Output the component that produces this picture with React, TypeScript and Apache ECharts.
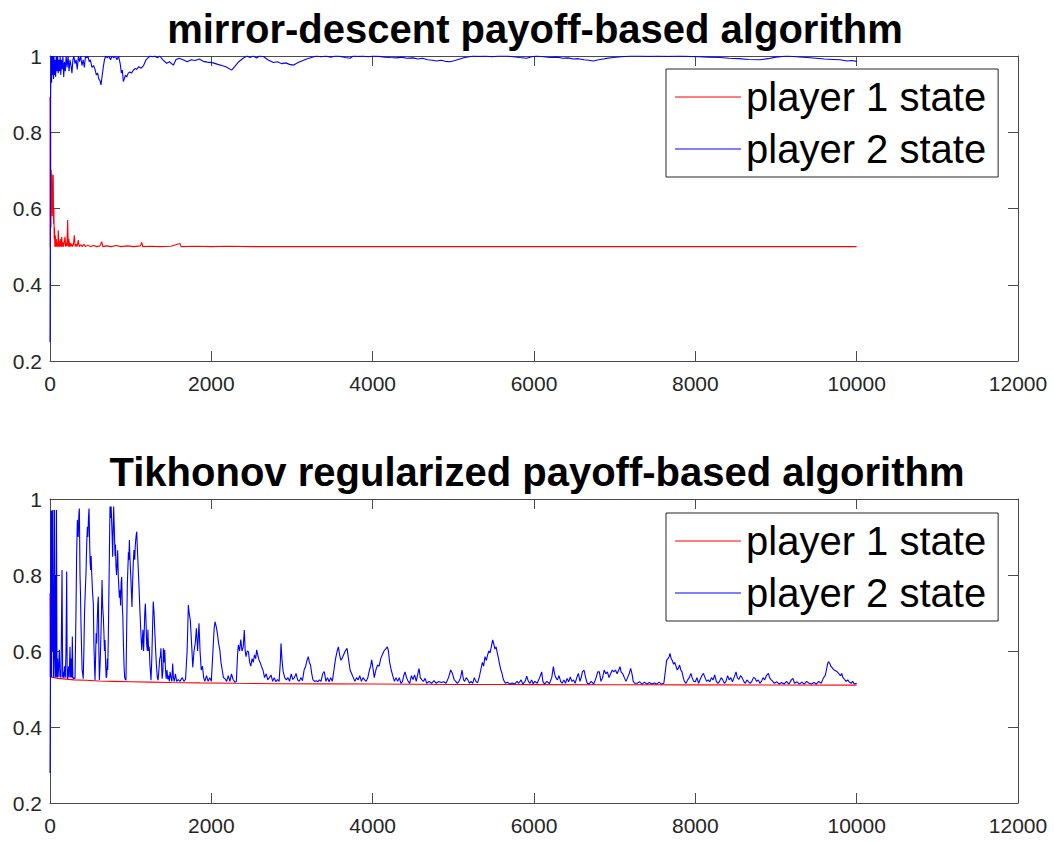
import React, { useEffect, useRef } from "react";
import * as echarts from "echarts";

const titles = ["mirror-descent payoff-based algorithm", "Tikhonov regularized payoff-based algorithm"];
const seriesNames = ["player 1 state", "player 2 state"];
const xTicks = { min: 0, max: 12000, interval: 2000 };
const yTicks = { min: 0.2, max: 1, interval: 0.2 };

// Top panel: player 1 (red)
const topRed: number[][] = [
  [0, 0.893], [4, 0.5], [8, 0.8], [12, 0.55], [16, 0.7], [20, 0.6], [24, 0.69], [28, 0.58], [32, 0.66], [36, 0.62],
  [40, 0.688], [44, 0.56], [48, 0.6], [52, 0.52], [56, 0.55], [60, 0.5], [66, 0.53], [72, 0.5], [78, 0.52], [84, 0.5],
  [90, 0.51], [96, 0.5], [103, 0.543], [110, 0.5], [118, 0.515], [124, 0.5], [132, 0.52], [138, 0.5], [145, 0.526],
  [152, 0.5], [160, 0.512], [168, 0.5], [176, 0.51], [186, 0.526], [194, 0.5], [202, 0.51], [210, 0.502], [219, 0.57],
  [226, 0.5], [234, 0.52], [242, 0.5], [250, 0.51], [260, 0.5], [270, 0.508], [280, 0.5], [290, 0.505], [302, 0.53],
  [312, 0.5], [324, 0.506], [336, 0.5], [351, 0.517], [362, 0.5], [380, 0.505], [400, 0.5], [420, 0.506], [440, 0.5],
  [470, 0.504], [500, 0.5], [540, 0.503], [580, 0.5], [620, 0.502], [641, 0.513], [655, 0.5], [700, 0.502], [760, 0.5],
  [820, 0.503], [880, 0.5], [960, 0.502], [1040, 0.5], [1120, 0.502], [1137, 0.511], [1150, 0.5], [1250, 0.501],
  [1350, 0.5], [1500, 0.501], [1612, 0.508], [1625, 0.5], [1800, 0.501], [2000, 0.5], [2200, 0.501], [2500, 0.5],
  [3000, 0.5], [4000, 0.5], [5000, 0.5], [6000, 0.5], [7000, 0.5], [8000, 0.5], [9000, 0.5], [10000, 0.5],
];

// Top panel: player 2 (blue)
const topBlue: number[][] = [
  [0, 0.25], [8, 0.9], [14, 1.0], [20, 0.93], [26, 1.0], [32, 0.95], [38, 1.0], [44, 0.94], [50, 1.0], [56, 0.95],
  [62, 0.99], [70, 0.945], [78, 1.0], [86, 0.96], [94, 1.0], [102, 0.955], [110, 0.99], [118, 0.96], [126, 1.0],
  [134, 0.95], [142, 0.99], [150, 0.965], [160, 1.0], [170, 0.945], [180, 0.985], [190, 0.96], [200, 1.0], [212, 0.97],
  [224, 1.0], [236, 0.96], [248, 0.99], [260, 0.975], [272, 0.955], [284, 0.99], [296, 1.0], [310, 0.98], [324, 0.99],
  [338, 0.965], [352, 1.0], [366, 0.985], [380, 1.0], [396, 0.975], [412, 0.99], [426, 0.97], [440, 1.0], [456, 0.995],
  [470, 1.0], [486, 0.985], [500, 0.99], [520, 0.97], [540, 0.975], [558, 0.965], [575, 0.95], [590, 0.955], [605, 0.94],
  [620, 0.935], [632, 0.924], [645, 0.945], [660, 0.97], [675, 0.99], [690, 1.0], [710, 0.995], [730, 1.0], [750, 0.99],
  [770, 1.0], [790, 0.995], [810, 1.0], [830, 0.99], [850, 1.0], [870, 0.98], [885, 0.955], [897, 0.963], [909, 0.933],
  [921, 0.94], [935, 0.95], [950, 0.945], [970, 0.955], [990, 0.958], [1010, 0.955], [1030, 0.962], [1054, 0.967],
  [1075, 0.965], [1100, 0.972], [1130, 0.968], [1160, 0.975], [1190, 0.99], [1215, 0.995], [1240, 1.0], [1270, 0.998],
  [1300, 1.0], [1330, 0.995], [1360, 1.0], [1400, 0.99], [1446, 0.981], [1480, 0.985], [1529, 0.976], [1560, 0.99],
  [1600, 0.994], [1650, 0.99], [1700, 0.985], [1750, 0.99], [1800, 0.988], [1850, 0.992], [1900, 0.986], [1950, 0.984],
  [2025, 0.982], [2080, 0.978], [2130, 0.975], [2180, 0.972], [2252, 0.963], [2300, 0.975], [2340, 0.985], [2394, 0.994],
  [2440, 1.0], [2480, 0.996], [2520, 1.0], [2560, 0.995], [2600, 1.0], [2650, 0.998], [2700, 0.99], [2769, 0.983],
  [2820, 0.985], [2870, 0.98], [2920, 0.982], [2970, 0.978], [3015, 0.976], [3070, 0.982], [3120, 0.987], [3182, 0.992],
  [3240, 0.996], [3306, 1.0], [3360, 0.998], [3420, 1.0], [3480, 0.997], [3540, 1.0], [3600, 0.999], [3660, 0.996],
  [3719, 0.994], [3760, 1.0], [3820, 0.999], [3880, 1.0], [3940, 0.998], [4004, 1.0], [4080, 0.999], [4150, 0.997],
  [4215, 0.996], [4300, 0.995], [4360, 0.997], [4422, 0.994], [4500, 0.995], [4560, 0.992], [4620, 0.994], [4680, 0.99],
  [4740, 0.989], [4794, 0.987], [4850, 0.989], [4900, 0.986], [4959, 0.985], [5020, 0.988], [5080, 0.992], [5140, 0.996],
  [5200, 0.998], [5244, 1.0], [5320, 0.999], [5400, 1.0], [5480, 0.998], [5560, 1.0], [5661, 1.0], [5740, 0.998],
  [5820, 0.996], [5909, 0.994], [5970, 0.998], [6033, 1.0], [6120, 0.998], [6200, 0.996], [6280, 0.997], [6360, 0.994],
  [6420, 0.995], [6487, 0.992], [6550, 0.993], [6620, 0.99], [6680, 0.989], [6735, 0.987], [6800, 0.99], [6880, 0.993],
  [6983, 0.996], [7080, 0.998], [7200, 1.0], [7314, 1.0], [7420, 0.999], [7540, 1.0], [7660, 0.999], [7810, 1.0],
  [7920, 0.999], [8040, 0.998], [8160, 0.997], [8306, 0.996], [8420, 0.994], [8540, 0.993], [8660, 0.991], [8802, 0.99],
  [8900, 0.993], [9000, 0.997], [9133, 1.0], [9250, 0.998], [9381, 0.996], [9500, 0.994], [9600, 0.992], [9700, 0.991],
  [9794, 0.99], [9880, 0.987], [9940, 0.988], [10000, 0.986],
];

// Bottom panel: player 1 (red)
const bottomRed: number[][] = [
  [0, 0.752], [3, 0.533], [50, 0.53], [100, 0.528], [200, 0.526], [300, 0.524], [450, 0.523], [600, 0.521], [800, 0.52],
  [1000, 0.519], [1250, 0.518], [1500, 0.517], [1860, 0.516], [2300, 0.515], [2800, 0.514], [3400, 0.5135], [4000, 0.513],
  [5000, 0.512], [6000, 0.5115], [7000, 0.511], [8000, 0.5108], [9000, 0.5105], [10000, 0.5103],
];

// Bottom panel: player 2 (blue)
const bottomBlue: number[][] = [
  [0, 0.279], [5, 0.528], [12, 0.97], [18, 0.53], [24, 0.97], [30, 0.6], [36, 0.971], [42, 0.53], [50, 0.603], [56, 0.971],
  [62, 0.53], [68, 0.8], [74, 0.532], [80, 0.971], [87, 0.53], [94, 0.58], [100, 0.531], [108, 0.56], [116, 0.603],
  [124, 0.531], [130, 0.55], [136, 0.53], [149, 0.813], [157, 0.53], [165, 0.545], [172, 0.53], [180, 0.56], [190, 0.53],
  [198, 0.6], [207, 0.809], [213, 0.53], [219, 0.527], [230, 0.56], [238, 0.53], [248, 0.611], [256, 0.53], [264, 0.58],
  [270, 0.53], [277, 0.638], [283, 0.53], [289, 0.527], [300, 0.53], [310, 0.527], [322, 0.7], [330, 0.85], [339, 0.945],
  [350, 0.9], [358, 0.96], [364, 0.975], [372, 0.8], [378, 0.75], [384, 0.673], [392, 0.6], [398, 0.55], [405, 0.54],
  [412, 0.527], [420, 0.6], [428, 0.7], [436, 0.75], [446, 0.804], [455, 0.88], [463, 0.927], [470, 0.9], [477, 0.95],
  [484, 0.975], [492, 0.88], [498, 0.83], [504, 0.813], [510, 0.85], [518, 0.8], [526, 0.76], [537, 0.725], [544, 0.62],
  [552, 0.56], [558, 0.523], [565, 0.58], [572, 0.647], [579, 0.62], [586, 0.68], [592, 0.72], [599, 0.743], [606, 0.6],
  [612, 0.523], [620, 0.56], [626, 0.6], [632, 0.647], [638, 0.7], [645, 0.787], [652, 0.72], [661, 0.69], [668, 0.65],
  [675, 0.6], [682, 0.629], [690, 0.56], [697, 0.53], [703, 0.532], [710, 0.58], [716, 0.55], [723, 0.638], [730, 0.75],
  [736, 0.848], [740, 0.92], [744, 0.98], [752, 0.95], [758, 0.98], [765, 0.98], [771, 0.9], [777, 0.848], [784, 0.93],
  [789, 0.98], [794, 0.98], [800, 0.9], [806, 0.85], [812, 0.88], [818, 0.822], [825, 0.8], [832, 0.83], [839, 0.865],
  [846, 0.8], [853, 0.77], [860, 0.74], [868, 0.76], [875, 0.72], [882, 0.78], [889, 0.795], [896, 0.72], [903, 0.69],
  [910, 0.62], [918, 0.56], [926, 0.53], [934, 0.525], [942, 0.523], [950, 0.65], [959, 0.778], [966, 0.82], [972, 0.86],
  [978, 0.84], [984, 0.892], [990, 0.85], [1000, 0.804], [1008, 0.76], [1016, 0.716], [1024, 0.78], [1032, 0.83],
  [1041, 0.866], [1050, 0.84], [1058, 0.88], [1066, 0.9], [1075, 0.914], [1085, 0.86], [1095, 0.813], [1105, 0.76],
  [1116, 0.699], [1126, 0.65], [1137, 0.603], [1145, 0.63], [1152, 0.656], [1160, 0.6], [1168, 0.65], [1175, 0.7],
  [1182, 0.725], [1190, 0.68], [1198, 0.62], [1206, 0.6], [1214, 0.656], [1222, 0.6], [1230, 0.611], [1240, 0.56],
  [1252, 0.523], [1262, 0.58], [1270, 0.65], [1280, 0.73], [1290, 0.7], [1300, 0.647], [1310, 0.6], [1320, 0.56],
  [1330, 0.532], [1340, 0.523], [1350, 0.55], [1360, 0.58], [1368, 0.585], [1375, 0.607], [1382, 0.57], [1390, 0.527],
  [1400, 0.55], [1405, 0.607], [1412, 0.57], [1422, 0.603], [1430, 0.56], [1440, 0.527], [1450, 0.55], [1460, 0.525],
  [1470, 0.535], [1480, 0.52], [1488, 0.545], [1500, 0.53], [1510, 0.52], [1521, 0.567], [1530, 0.53], [1540, 0.52],
  [1555, 0.54], [1570, 0.52], [1590, 0.525], [1610, 0.52], [1640, 0.53], [1660, 0.52], [1680, 0.525], [1700, 0.6],
  [1715, 0.721], [1725, 0.7], [1740, 0.68], [1755, 0.62], [1770, 0.557], [1785, 0.6], [1800, 0.62], [1815, 0.66],
  [1830, 0.6], [1847, 0.673], [1860, 0.6], [1875, 0.55], [1890, 0.56], [1905, 0.53], [1920, 0.52], [1940, 0.535],
  [1960, 0.52], [1980, 0.53], [2000, 0.52], [2020, 0.6], [2035, 0.66], [2046, 0.677], [2060, 0.665], [2075, 0.646],
  [2090, 0.62], [2105, 0.603], [2120, 0.57], [2135, 0.55], [2150, 0.53], [2170, 0.527], [2190, 0.52], [2210, 0.535],
  [2230, 0.52], [2250, 0.54], [2270, 0.525], [2290, 0.518], [2310, 0.52], [2325, 0.59], [2335, 0.616], [2350, 0.6],
  [2365, 0.63], [2380, 0.6], [2395, 0.61], [2409, 0.655], [2420, 0.6], [2430, 0.585], [2445, 0.6], [2460, 0.598],
  [2475, 0.57], [2490, 0.56], [2505, 0.58], [2520, 0.57], [2535, 0.59], [2550, 0.58], [2562, 0.603], [2575, 0.59],
  [2590, 0.577], [2605, 0.57], [2620, 0.56], [2640, 0.55], [2660, 0.53], [2680, 0.54], [2700, 0.524], [2720, 0.53],
  [2740, 0.537], [2760, 0.52], [2780, 0.53], [2800, 0.519], [2820, 0.525], [2840, 0.52], [2855, 0.57], [2864, 0.62],
  [2875, 0.58], [2890, 0.546], [2910, 0.53], [2930, 0.524], [2950, 0.53], [2970, 0.52], [2990, 0.54], [3010, 0.525],
  [3030, 0.53], [3050, 0.541], [3070, 0.524], [3090, 0.52], [3110, 0.53], [3130, 0.522], [3150, 0.55], [3170, 0.56],
  [3185, 0.575], [3202, 0.585], [3215, 0.57], [3230, 0.563], [3245, 0.54], [3260, 0.524], [3280, 0.52], [3300, 0.522],
  [3320, 0.519], [3340, 0.524], [3360, 0.52], [3380, 0.54], [3400, 0.546], [3420, 0.52], [3440, 0.53], [3460, 0.519],
  [3480, 0.53], [3500, 0.52], [3520, 0.55], [3540, 0.58], [3560, 0.6], [3575, 0.611], [3590, 0.59], [3605, 0.576],
  [3620, 0.58], [3640, 0.59], [3660, 0.6], [3682, 0.607], [3700, 0.58], [3720, 0.55], [3740, 0.54], [3760, 0.53],
  [3780, 0.52], [3800, 0.53], [3820, 0.524], [3840, 0.535], [3860, 0.52], [3880, 0.53], [3900, 0.524], [3920, 0.52],
  [3940, 0.53], [3960, 0.55], [3975, 0.56], [3988, 0.577], [4000, 0.56], [4020, 0.53], [4040, 0.55], [4060, 0.563],
  [4080, 0.56], [4100, 0.58], [4120, 0.59], [4140, 0.6], [4160, 0.605], [4182, 0.611], [4195, 0.6], [4210, 0.57],
  [4230, 0.55], [4250, 0.534], [4270, 0.52], [4290, 0.53], [4310, 0.52], [4330, 0.53], [4350, 0.515], [4370, 0.52],
  [4385, 0.535], [4401, 0.545], [4420, 0.53], [4440, 0.52], [4460, 0.515], [4480, 0.535], [4500, 0.525], [4520, 0.537],
  [4540, 0.52], [4560, 0.54], [4575, 0.554], [4590, 0.53], [4610, 0.524], [4630, 0.52], [4650, 0.528], [4670, 0.515],
  [4700, 0.52], [4730, 0.515], [4760, 0.522], [4790, 0.515], [4820, 0.52], [4850, 0.517], [4880, 0.519], [4910, 0.515],
  [4940, 0.53], [4968, 0.55], [4990, 0.54], [5010, 0.525], [5030, 0.52], [5050, 0.515], [5070, 0.52], [5090, 0.53],
  [5108, 0.55], [5125, 0.525], [5140, 0.52], [5160, 0.53], [5180, 0.524], [5200, 0.515], [5220, 0.52], [5240, 0.515],
  [5260, 0.53], [5280, 0.52], [5300, 0.516], [5320, 0.53], [5340, 0.55], [5360, 0.57], [5375, 0.56], [5393, 0.585],
  [5410, 0.575], [5425, 0.59], [5440, 0.6], [5455, 0.595], [5470, 0.61], [5488, 0.629], [5500, 0.62], [5515, 0.605],
  [5530, 0.611], [5545, 0.595], [5560, 0.58], [5575, 0.563], [5590, 0.55], [5605, 0.54], [5620, 0.525], [5645, 0.515],
  [5670, 0.518], [5700, 0.513], [5730, 0.516], [5760, 0.513], [5790, 0.52], [5810, 0.515], [5840, 0.524], [5860, 0.513],
  [5890, 0.52], [5910, 0.534], [5930, 0.52], [5950, 0.515], [5970, 0.524], [5990, 0.514], [6010, 0.52], [6040, 0.515],
  [6070, 0.53], [6095, 0.545], [6110, 0.52], [6130, 0.513], [6160, 0.52], [6190, 0.514], [6220, 0.53], [6240, 0.559],
  [6255, 0.54], [6270, 0.53], [6290, 0.524], [6310, 0.535], [6330, 0.52], [6350, 0.515], [6370, 0.524], [6390, 0.515],
  [6410, 0.528], [6430, 0.519], [6450, 0.532], [6470, 0.52], [6490, 0.524], [6510, 0.515], [6530, 0.53], [6550, 0.541],
  [6570, 0.52], [6585, 0.53], [6600, 0.545], [6620, 0.55], [6640, 0.53], [6660, 0.515], [6680, 0.513], [6710, 0.52],
  [6740, 0.513], [6770, 0.53], [6790, 0.545], [6810, 0.545], [6830, 0.52], [6850, 0.53], [6870, 0.55], [6890, 0.54],
  [6910, 0.545], [6930, 0.53], [6950, 0.54], [6970, 0.55], [6990, 0.545], [7010, 0.55], [7030, 0.54], [7050, 0.55],
  [7066, 0.559], [7080, 0.545], [7100, 0.54], [7120, 0.53], [7140, 0.52], [7160, 0.53], [7180, 0.54], [7198, 0.554],
  [7215, 0.54], [7230, 0.52], [7250, 0.515], [7280, 0.515], [7310, 0.519], [7340, 0.513], [7370, 0.518], [7400, 0.513],
  [7430, 0.517], [7460, 0.513], [7490, 0.516], [7520, 0.513], [7550, 0.518], [7580, 0.513], [7610, 0.515], [7630, 0.55],
  [7645, 0.576], [7660, 0.58], [7675, 0.585], [7686, 0.594], [7700, 0.58], [7715, 0.575], [7730, 0.565], [7745, 0.57],
  [7760, 0.56], [7775, 0.55], [7790, 0.555], [7805, 0.563], [7820, 0.55], [7835, 0.545], [7850, 0.53], [7865, 0.52],
  [7885, 0.515], [7905, 0.524], [7925, 0.53], [7945, 0.541], [7960, 0.53], [7980, 0.52], [8000, 0.519], [8020, 0.53],
  [8040, 0.515], [8060, 0.525], [8080, 0.535], [8100, 0.541], [8120, 0.53], [8140, 0.52], [8160, 0.524], [8180, 0.519],
  [8200, 0.53], [8220, 0.524], [8240, 0.537], [8260, 0.52], [8280, 0.515], [8300, 0.52], [8320, 0.53], [8340, 0.524],
  [8360, 0.515], [8380, 0.52], [8400, 0.535], [8420, 0.524], [8440, 0.53], [8460, 0.519], [8480, 0.53], [8505, 0.545],
  [8520, 0.53], [8540, 0.525], [8560, 0.535], [8580, 0.53], [8600, 0.52], [8620, 0.515], [8640, 0.524], [8660, 0.519],
  [8680, 0.515], [8700, 0.52], [8720, 0.53], [8740, 0.528], [8760, 0.52], [8780, 0.524], [8800, 0.515], [8820, 0.52],
  [8840, 0.53], [8860, 0.524], [8880, 0.535], [8906, 0.541], [8920, 0.53], [8940, 0.524], [8960, 0.52], [8980, 0.515],
  [9010, 0.519], [9040, 0.513], [9070, 0.517], [9100, 0.513], [9130, 0.52], [9160, 0.513], [9190, 0.524], [9210, 0.528],
  [9230, 0.515], [9260, 0.519], [9290, 0.513], [9320, 0.518], [9350, 0.513], [9380, 0.52], [9410, 0.515], [9440, 0.513],
  [9470, 0.517], [9500, 0.513], [9530, 0.52], [9560, 0.515], [9590, 0.53], [9610, 0.535], [9625, 0.55], [9638, 0.565],
  [9650, 0.572], [9665, 0.568], [9680, 0.56], [9700, 0.555], [9720, 0.55], [9740, 0.548], [9760, 0.545], [9780, 0.54],
  [9800, 0.535], [9815, 0.541], [9830, 0.53], [9850, 0.525], [9870, 0.52], [9890, 0.524], [9910, 0.518], [9930, 0.515],
  [9950, 0.52], [9970, 0.513], [10000, 0.515],
];

const FONT = "'Liberation Sans', Helvetica, Arial, sans-serif";
const AXIS_COLOR = "#4a4a4a";
const TEXT_COLOR = "#262626";

function buildOption() {
  const grids = [
    { left: 50, top: 56, width: 968, height: 305 },
    { left: 50, top: 499, width: 968, height: 304 },
  ];
  const xAxes: any[] = [];
  const yAxes: any[] = [];
  grids.forEach((_, i) => {
    xAxes.push({
      type: "value", gridIndex: i, position: "bottom", ...xTicks,
      axisLine: { show: true, onZero: false, lineStyle: { color: AXIS_COLOR, width: 1 } },
      axisTick: { show: true, inside: true, length: 10, lineStyle: { color: AXIS_COLOR } },
      axisLabel: { color: TEXT_COLOR, fontSize: 21, fontFamily: FONT, margin: 12, formatter: (v: number) => String(v) },
      splitLine: { show: false },
    });
    xAxes.push({
      type: "value", gridIndex: i, position: "top", ...xTicks,
      axisLine: { show: true, onZero: false, lineStyle: { color: AXIS_COLOR, width: 1 } },
      axisTick: { show: true, inside: true, length: 10, lineStyle: { color: AXIS_COLOR } },
      axisLabel: { show: false },
      splitLine: { show: false },
    });
    yAxes.push({
      type: "value", gridIndex: i, position: "left", ...yTicks,
      axisLine: { show: true, onZero: false, lineStyle: { color: AXIS_COLOR, width: 1 } },
      axisTick: { show: true, inside: true, length: 10, lineStyle: { color: AXIS_COLOR } },
      axisLabel: { color: TEXT_COLOR, fontSize: 21, fontFamily: FONT, margin: 8, formatter: (v: number) => String(Number(v.toFixed(1))) },
      splitLine: { show: false },
    });
    yAxes.push({
      type: "value", gridIndex: i, position: "right", ...yTicks,
      axisLine: { show: true, onZero: false, lineStyle: { color: AXIS_COLOR, width: 1 } },
      axisTick: { show: true, inside: true, length: 10, lineStyle: { color: AXIS_COLOR } },
      axisLabel: { show: false },
      splitLine: { show: false },
    });
  });

  const panels = [
    [topRed, topBlue],
    [bottomRed, bottomBlue],
  ];
  const colors = ["#ff0000", "#0000ff"];
  const series: any[] = [];
  panels.forEach((pair, i) => {
    pair.forEach((data, j) => {
      series.push({
        type: "line", name: seriesNames[j], xAxisIndex: i * 2, yAxisIndex: i * 2,
        data, showSymbol: false, symbol: "none",
        lineStyle: { color: colors[j], width: 1.1 },
        itemStyle: { color: colors[j] },
        z: 2 + j,
      });
    });
  });

  const legendTops = [69, 513];
  const legends = legendTops.map((top) => ({
    left: 666, top, orient: "vertical",
    data: seriesNames.map((n) => ({ name: n, icon: "rect" })),
    itemWidth: 66, itemHeight: 1.2, itemGap: 12,
    padding: [8, 12, 8, 9],
    backgroundColor: "#ffffff",
    borderColor: "#262626", borderWidth: 1,
    textStyle: { fontSize: 40, fontFamily: FONT, color: "#000000", lineHeight: 40 },
    selectedMode: false,
  }));

  const titleCfg = [
    { text: titles[0], left: 530, top: 4 },
    { text: titles[1], left: 532, top: 447 },
  ].map((t) => ({
    ...t, textAlign: "center",
    textStyle: { fontSize: 40, fontWeight: "bold", fontFamily: FONT, color: "#000000", lineHeight: 40 },
  }));

  return {
    animation: false,
    backgroundColor: "#ffffff",
    title: titleCfg,
    legend: legends,
    grid: grids,
    xAxis: xAxes,
    yAxis: yAxes,
    series,
  };
}

export default function App() {
  const ref = useRef<HTMLDivElement>(null);
  useEffect(() => {
    if (!ref.current) return;
    const chart = echarts.init(ref.current, undefined, { renderer: "svg" });
    chart.setOption(buildOption() as any);
    return () => chart.dispose();
  }, []);
  return <div ref={ref} style={{ position: "fixed", left: 0, top: 0, width: 1054, height: 842, background: "#fff" }} />;
}
